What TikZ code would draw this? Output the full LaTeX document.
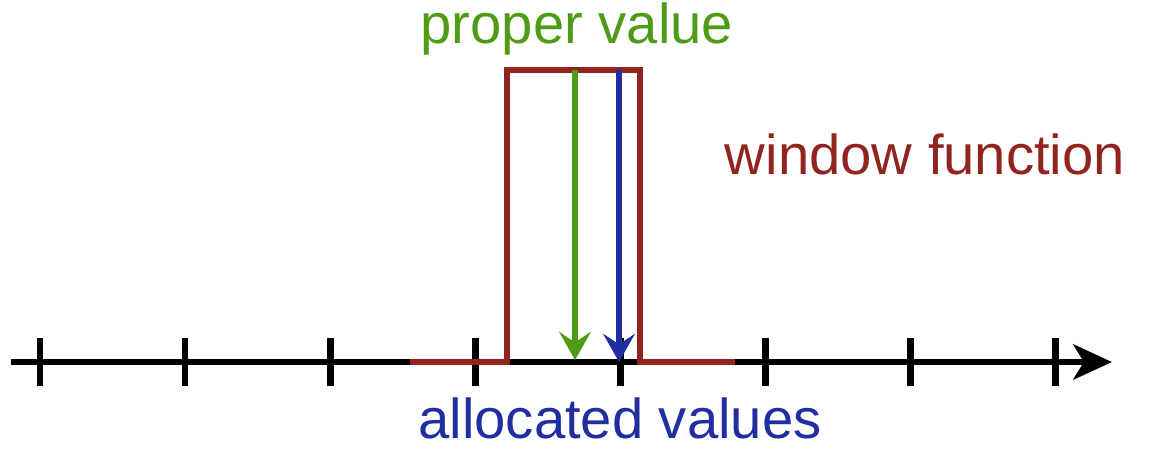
\documentclass[tikz,border=0pt]{standalone}
\usepackage{fontspec}
\setmainfont{Liberation Sans}
\usepackage{xcolor}
\usepackage{tikz}
\usetikzlibrary{arrows.meta, positioning}

\definecolor{wingreen}{RGB}{78,155,22}
\definecolor{winred}{RGB}{145,36,30}
\definecolor{winblue}{RGB}{32,46,160}

\begin{document}
\begin{tikzpicture}[x=0.02cm, y=0.02cm,
        axisline/.style={line width=3.8pt, black},
        tickline/.style={line width=3.8pt, black},
        windowline/.style={line width=3.4pt, winred, line join=miter},
        valarrow/.style={line width=3.2pt, -{Stealth[length=16pt, width=18pt, inset=6pt]}},
        lbl/.style={font=\fontsize{32}{38}\selectfont, inner sep=0pt}]

        \useasboundingbox (0,0) rectangle (1149,450);

        % axis
        \coordinate (a0) at (11,88);
        \coordinate (a1) at (1112,88);
        \draw[axisline, -{Stealth[length=22pt, width=20pt, inset=6pt]}] (a0) -- (a1);
        \foreach \i in {0,...,7}
            \draw[tickline] (40+145.1*\i,64) -- (40+145.1*\i,112);

        % window function
        \coordinate (w0) at (410,88);
        \coordinate (w1) at (507,88);
        \coordinate (w2) at (507,380);
        \coordinate (w3) at (640,380);
        \coordinate (w4) at (640,88);
        \coordinate (w5) at (735,88);
        \draw[windowline] (w0) -- (w1) -- (w2) -- (w3) -- (w4) -- (w5);

        % values
        \coordinate (pt) at (575,380);
        \coordinate (pb) at (575,90);
        \coordinate (at) at (619,380);
        \coordinate (ab) at (619,88);
        \draw[valarrow, wingreen] (pt) -- (pb);
        \draw[valarrow, winblue] (at) -- (ab);

        % labels
        \node[lbl, wingreen] (proper) at (577,421) {proper value};
        \node[lbl, winred] (window) at (925,296) {window function};
        \node[lbl, winblue] (alloc) at (620,32) {allocated values};

\end{tikzpicture}
\end{document}
